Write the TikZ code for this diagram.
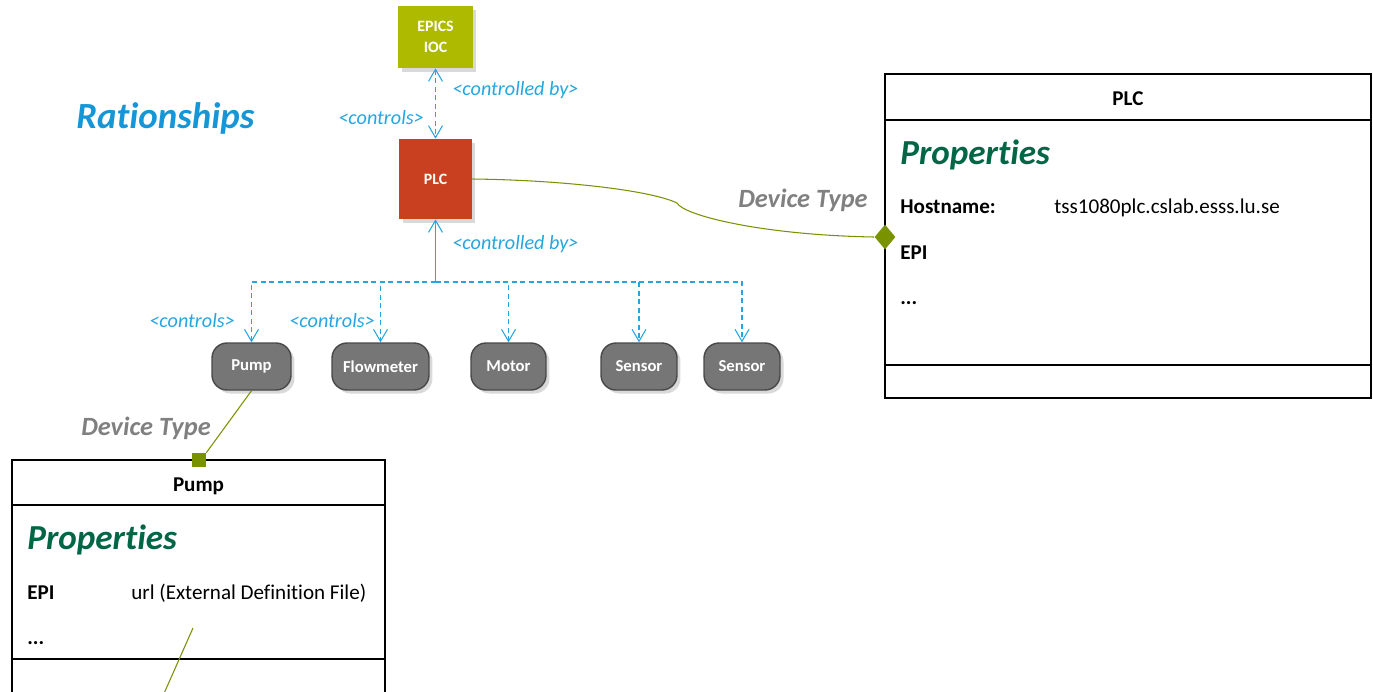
\documentclass[tikz,border=0pt]{standalone}
\usepackage{fontspec}
\setmainfont{Carlito}[Ligatures=NoCommon]
\usetikzlibrary{arrows.meta,positioning,shapes.geometric,shadows}
\definecolor{epicsgreen}{RGB}{173,186,0}
\definecolor{plcred}{RGB}{201,64,32}
\definecolor{relblue}{RGB}{38,166,224}
\definecolor{titleblue}{RGB}{22,150,214}
\definecolor{devgray}{RGB}{118,118,118}
\definecolor{devborder}{RGB}{72,72,72}
\definecolor{typeolive}{RGB}{120,146,0}
\definecolor{labelgray}{RGB}{128,128,128}
\definecolor{propgreen}{RGB}{0,102,70}
\tikzset{
    hwbox/.style={inner sep=0pt,text=white,align=center,font=\bfseries\fontsize{9}{12}\selectfont,
        drop shadow={shadow xshift=0.7mm,shadow yshift=-0.7mm,opacity=0.3}},
    devnode/.style={draw=devborder,thick,fill=devgray,rounded corners=3mm,minimum height=0.94cm,
        inner sep=0pt,text=white,font=\bfseries\fontsize{9.5}{11}\selectfont,
        drop shadow={shadow xshift=0.7mm,shadow yshift=-0.7mm,opacity=0.3}},
    rel/.style={relblue,line width=0.6pt},
    relarrow/.style={-{Straight Barb[length=2.4mm,width=2.8mm]}},
    reldash/.style={dash pattern=on 1mm off 0.7mm},
    rellabel/.style={text=relblue,anchor=base west,inner sep=0pt,font=\itshape\fontsize{11.5}{13}\selectfont},
    typelink/.style={typeolive,line width=0.6pt},
    typelabel/.style={text=labelgray,inner sep=0pt,font=\bfseries\itshape\fontsize{15}{18}\selectfont},
    classline/.style={line width=1pt},
    classtext/.style={anchor=base west,inner sep=0pt,font=\fontsize{12}{14}\selectfont},
    proptitle/.style={anchor=base west,inner sep=0pt,text=propgreen,font=\bfseries\itshape\fontsize{20}{24}\selectfont}
}
\begin{document}
\begin{tikzpicture}[x=0.02cm,y=-0.02cm]
    \useasboundingbox (0,0) rectangle (1373,691);
    \clip (0,0) rectangle (1373,691);

    \node[typelabel,text=titleblue,anchor=base west,font=\bfseries\itshape\fontsize{21}{25}\selectfont] (title) at (76,128) {Rationships};

    % controller chain
    \node[hwbox,fill=epicsgreen,minimum width=1.5cm,minimum height=1.24cm] (epics) at (435.5,37) {EPICS\\IOC};
    \node[hwbox,fill=plcred,minimum width=1.46cm,minimum height=1.6cm] (plc) at (435.5,179) {PLC};
    \draw[rel,reldash,{Straight Barb[length=2.4mm,width=2.8mm]}-{Straight Barb[length=2.4mm,width=2.8mm]}] (epics.south) -- (plc.north);
    \node[rellabel] (cby1) at (452,95) {<controlled by>};
    \node[rellabel] (ctl1) at (338,124) {<controls>};

    % devices
    \node[devnode,minimum width=1.58cm] (pump) at (251.5,366.5) {Pump};
    \node[devnode,minimum width=1.94cm] (flow) at (380.5,366.5) {Flowmeter};
    \node[devnode,minimum width=1.5cm] (motor) at (508.5,366.5) {Motor};
    \node[devnode,minimum width=1.52cm] (sensA) at (639,366.5) {Sensor};
    \node[devnode,minimum width=1.52cm] (sensB) at (742,366.5) {Sensor};

    \coordinate (bus) at (435.5,282);
    \draw[rel,relarrow] (bus) -- (plc.south);
    \foreach \d in {pump,flow,motor,sensA,sensB} {\draw[rel,reldash,relarrow] (bus) -| (\d.north);}
    \node[rellabel] (cby2) at (452,249) {<controlled by>};
    \node[rellabel] (ctl2) at (149,327) {<controls>};
    \node[rellabel] (ctl3) at (289,327) {<controls>};

    % PLC class
    \draw[classline] (885,74) rectangle (1371,398);
    \draw[classline] (885,120) -- (1371,120);
    \draw[classline] (885,365) -- (1371,365);
    \node[classtext,anchor=base,font=\bfseries\fontsize{12}{14}\selectfont] (plchdr) at (1128,105) {PLC};
    \node[proptitle] (plcprop) at (900,164) {Properties};
    \node[classtext,font=\bfseries\fontsize{12}{14}\selectfont] (hostkey) at (900,213) {Hostname:};
    \node[classtext] (hostval) at (1054,213) {tss1080plc.cslab.esss.lu.se};
    \node[classtext,font=\bfseries\fontsize{12}{14}\selectfont] (plcepi) at (900,259) {EPI};
    \node[classtext,font=\bfseries\fontsize{12}{14}\selectfont] (plcmore) at (900,304) {...};

    \node[diamond,fill=typeolive,minimum width=0.42cm,minimum height=0.5cm,inner sep=0pt] (plcend) at (885,237) {};
    \coordinate (kink) at (677,203);
    \draw[typelink] (plc.east) .. controls (560,180) and (650,190) .. (kink)
        .. controls (683,215) and (760,235) .. (plcend.west);
    \node[typelabel,anchor=base east] (plctype) at (868,207) {Device Type};

    % Pump class
    \draw[classline] (12,460) rectangle (385,730);
    \draw[classline] (12,505) -- (385,505);
    \draw[classline] (12,659) -- (385,659);
    \node[classtext,anchor=base,font=\bfseries\fontsize{12}{14}\selectfont] (pumphdr) at (198.5,491) {Pump};
    \node[proptitle] (pumpprop) at (27,549) {Properties};
    \node[classtext,font=\bfseries\fontsize{12}{14}\selectfont] (pumpepi) at (27,599) {EPI};
    \node[classtext] (pumpurl) at (131,599) {url (External Definition File)};
    \node[classtext,font=\bfseries\fontsize{12}{14}\selectfont] (pumpmore) at (27,644) {...};

    \node[fill=typeolive,minimum size=0.28cm,inner sep=0pt] (pumpend) at (199,460) {};
    \draw[typelink] (pump.south) -- (pumpend.north east);
    \node[typelabel,anchor=base west] (pumptype) at (81,435) {Device Type};

    \coordinate (strayA) at (193,628);
    \coordinate (strayB) at (162,698);
    \draw[typelink] (strayA) -- (strayB);
\end{tikzpicture}
\end{document}
